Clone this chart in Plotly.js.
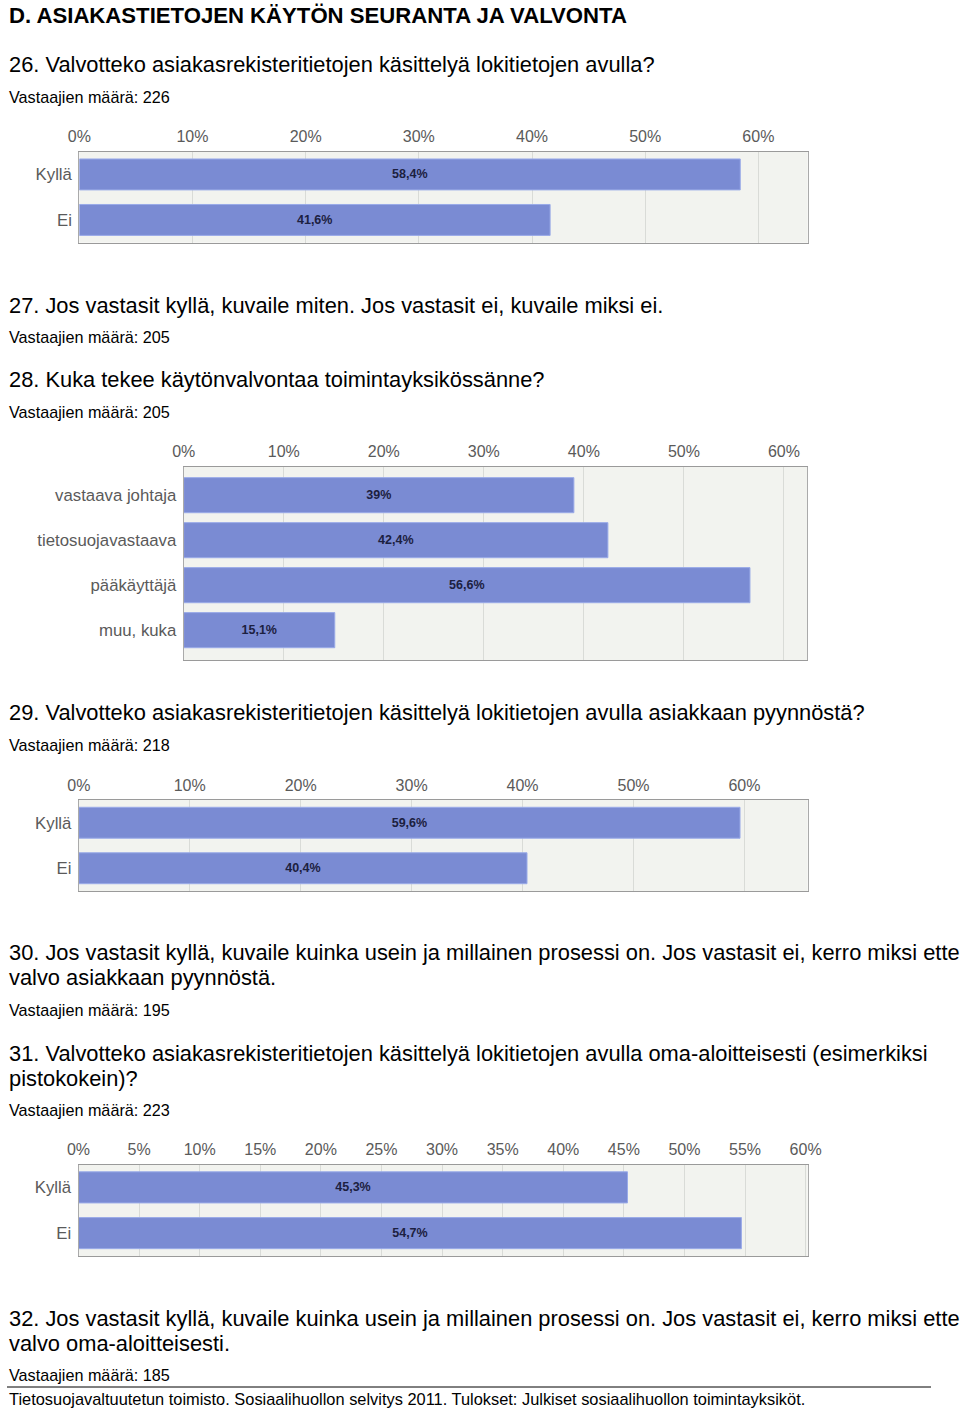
<!DOCTYPE html>
<html><head><meta charset="utf-8">
<script src="https://cdn.plot.ly/plotly-3.0.1.min.js"></script>
<style>html,body{margin:0;padding:0;background:#fff}#c{width:960px;height:1412px}</style>
</head><body><div id="c"></div>
<script>
// ---- data ----
const q26Categories = ["Kyllä", "Ei"];
const q26Values = [58.4, 41.6];
const q28Categories = ["vastaava johtaja", "tietosuojavastaava", "pääkäyttäjä", "muu, kuka"];
const q28Values = [39, 42.4, 56.6, 15.1];
const q29Categories = ["Kyllä", "Ei"];
const q29Values = [59.6, 40.4];
const q31Categories = ["Kyllä", "Ei"];
const q31Values = [45.3, 54.7];
const tickVals10 = [0, 10, 20, 30, 40, 50, 60];
const tickVals5 = [0, 5, 10, 15, 20, 25, 30, 35, 40, 45, 50, 55, 60];

const W = 960, H = 1412;
const fmt = v => String(v).replace('.', ',') + '%';
const BAR = '#7a8bd3';
const TICKFONT = 'Liberation Sans, Arial';

function barTrace(cats, vals, n, width) {
  const s = n === 1 ? '' : String(n);
  return {
    type: 'bar', orientation: 'h', y: cats, x: vals,
    xaxis: 'x' + s, yaxis: 'y' + s, width: width,
    marker: {color: BAR, line: {color: '#9aabe8', width: 1}},
    text: vals.map(fmt), textposition: 'inside', insidetextanchor: 'middle',
    textfont: {family: 'Liberation Sans, Arial', size: 12.5, color: '#1c2040', weight: 'bold'},
    hoverinfo: 'skip', cliponaxis: false
  };
}

function xAxis(px0, px1, range, ticks, anchor) {
  return {
    domain: [px0 / W, px1 / W], range: range, side: 'top', anchor: anchor,
    tickvals: ticks, ticktext: ticks.map(t => t + '%'),
    ticks: 'outside', ticklen: 2, tickcolor: 'rgba(0,0,0,0)',
    tickfont: {family: TICKFONT, size: 16, color: '#5a5a5a'},
    showgrid: true, gridcolor: '#d9dbd7', gridwidth: 1,
    showline: true, linecolor: '#9a9a9a', linewidth: 1, mirror: true,
    zeroline: false, fixedrange: true
  };
}
function yAxis(py0, py1, anchor, range) {
  const ax = {
    domain: [1 - py1 / H, 1 - py0 / H], anchor: anchor,
    type: 'category',
    tickfont: {family: TICKFONT, size: 16.8, color: '#5a5a5a'},
    ticks: 'outside', ticklen: 3, tickcolor: 'rgba(0,0,0,0)',
    showgrid: false, showline: true, linecolor: '#aaaaaa', linewidth: 1, mirror: true,
    zeroline: false, fixedrange: true
  };
  if (range) ax.range = range; else ax.autorange = 'reversed';
  return ax;
}

const data = [
  barTrace(q26Categories, q26Values, 1, 0.68),
  barTrace(q28Categories, q28Values, 2, 0.78),
  barTrace(q29Categories, q29Values, 3, 0.68),
  barTrace(q31Categories, q31Values, 4, 0.68)
];

function txt(t, x, y, size, bold) {
  return {text: bold ? '<b>' + t + '</b>' : t, xref: 'paper', yref: 'paper',
    x: x / W, y: 1 - y / H, xanchor: 'left', yanchor: 'middle', showarrow: false,
    font: {family: 'Liberation Sans, Arial', size: size, color: '#000'}};
}

const Q = 21.85, S = 16.2;
const annotations = [
  txt('D. ASIAKASTIETOJEN KÄYTÖN SEURANTA JA VALVONTA', 7, 15, 22.15, true),
  txt('26. Valvotteko asiakasrekisteritietojen käsittelyä lokitietojen avulla?', 7, 65, Q),
  txt('Vastaajien määrä: 226', 7, 97, S),
  txt('27. Jos vastasit kyllä, kuvaile miten. Jos vastasit ei, kuvaile miksi ei.', 7, 305, Q),
  txt('Vastaajien määrä: 205', 7, 337, S),
  txt('28. Kuka tekee käytönvalvontaa toimintayksikössänne?', 7, 380, Q),
  txt('Vastaajien määrä: 205', 7, 412, S),
  txt('29. Valvotteko asiakasrekisteritietojen käsittelyä lokitietojen avulla asiakkaan pyynnöstä?', 7, 713, Q),
  txt('Vastaajien määrä: 218', 7, 745, S),
  txt('30. Jos vastasit kyllä, kuvaile kuinka usein ja millainen prosessi on. Jos vastasit ei, kerro miksi ette', 7, 953, Q),
  txt('valvo asiakkaan pyynnöstä.', 7, 978, Q),
  txt('Vastaajien määrä: 195', 7, 1010, S),
  txt('31. Valvotteko asiakasrekisteritietojen käsittelyä lokitietojen avulla oma-aloitteisesti (esimerkiksi', 7, 1053, Q),
  txt('pistokokein)?', 7, 1078, Q),
  txt('Vastaajien määrä: 223', 7, 1110, S),
  txt('32. Jos vastasit kyllä, kuvaile kuinka usein ja millainen prosessi on. Jos vastasit ei, kerro miksi ette', 7, 1318, Q),
  txt('valvo oma-aloitteisesti.', 7, 1343, Q),
  txt('Vastaajien määrä: 185', 7, 1375, S),
  txt('Tietosuojavaltuutetun toimisto. Sosiaalihuollon selvitys 2011. Tulokset: Julkiset sosiaalihuollon toimintayksiköt.', 7, 1399, 16.4)
];

const layout = {
  width: W, height: H, margin: {l: 0, r: 0, t: 0, b: 0},
  paper_bgcolor: '#fff', plot_bgcolor: '#f2f3ef', showlegend: false,
  xaxis: xAxis(79.3, 807.7, [0, 64.36], tickVals10, 'y'),
  yaxis: yAxis(151.7, 242.7, 'x'),
  xaxis2: xAxis(183.7, 807.3, [0, 62.33], tickVals10, 'y2'),
  yaxis2: yAxis(466.7, 660, 'x2', [3.663, -0.633]),
  xaxis3: xAxis(78.8, 807.7, [0, 65.7], tickVals10, 'y3'),
  yaxis3: yAxis(800, 891, 'x3'),
  xaxis4: xAxis(78.5, 807.7, [0, 60.17], tickVals5, 'y4'),
  yaxis4: yAxis(1164.5, 1256, 'x4'),
  annotations: annotations,
  shapes: [{type: 'line', xref: 'paper', yref: 'paper', x0: 7 / W, x1: 931 / W,
    y0: 1 - 1387 / H, y1: 1 - 1387 / H, line: {color: '#000', width: 1}}]
};

Plotly.newPlot('c', data, layout, {staticPlot: true, displayModeBar: false});
</script></body></html>
